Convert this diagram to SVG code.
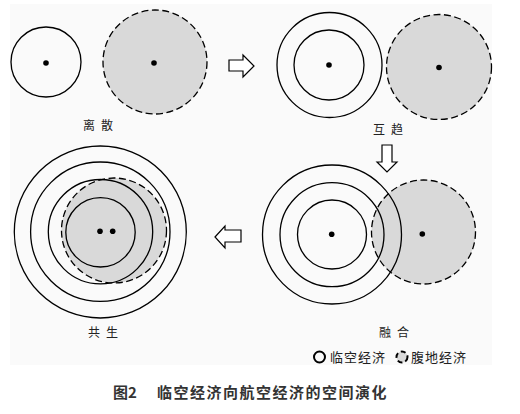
<svg xmlns="http://www.w3.org/2000/svg" width="520" height="414" viewBox="0 0 520 414">
<style>
.bg{fill:#fafafa}
.ring{fill:none;stroke:#000;stroke-width:1.3}
.hin{fill:#d9d9d9;stroke:#000;stroke-width:1.3;stroke-dasharray:7 3.5}
.dot{fill:#000}
.arr{fill:#fff;stroke:#000;stroke-width:1.2;stroke-linejoin:miter}
.lbl{font-family:"Noto Sans CJK SC","Noto Sans CJK JP",sans-serif;font-size:12px;fill:#222;letter-spacing:6px}
.leg{font-family:"Noto Sans CJK SC","Noto Sans CJK JP",sans-serif;font-size:13px;fill:#222;letter-spacing:1px}
.cap{font-family:"Noto Sans CJK SC","Noto Sans CJK JP",sans-serif;font-size:15px;font-weight:bold;fill:#333}
</style>
<rect class="bg" x="10" y="4" width="482" height="361"/>
<g id="stage1">
<circle class="ring" cx="46" cy="62" r="35"/>
<circle class="dot" cx="46" cy="63" r="2.8"/>
<circle class="hin" cx="155" cy="62" r="52"/>
<circle class="dot" cx="154" cy="63" r="2.8"/>
<text class="lbl" x="83" y="130">离散</text>
</g>
<g id="stage2">
<circle class="ring" cx="329.5" cy="65" r="52.5"/>
<circle class="ring" cx="329" cy="65" r="35"/>
<circle class="dot" cx="329" cy="65" r="2.8"/>
<circle class="hin" cx="439" cy="67" r="52.5"/>
<circle class="dot" cx="439" cy="67.5" r="2.8"/>
<text class="lbl" x="373" y="134">互趋</text>
</g>
<g id="stage3">
<circle class="hin" cx="423.5" cy="232" r="52"/>
<circle class="ring" cx="332" cy="234.5" r="69.5"/>
<circle class="ring" cx="332" cy="234.7" r="52"/>
<circle class="ring" cx="332" cy="234.5" r="34.5"/>
<circle class="dot" cx="331.7" cy="234.3" r="2.8"/>
<circle class="dot" cx="422.3" cy="234" r="2.8"/>
<text class="lbl" x="379" y="337">融合</text>
</g>
<g id="stage4">
<circle class="hin" cx="114" cy="230.5" r="52.5"/>
<circle class="ring" cx="100.3" cy="232" r="86"/>
<circle class="ring" cx="100.3" cy="231.7" r="69.7"/>
<circle class="ring" cx="100.5" cy="231.7" r="52.2"/>
<circle class="ring" cx="100.5" cy="232.3" r="34.7"/>
<circle class="dot" cx="100" cy="231.3" r="2.8"/>
<circle class="dot" cx="112.7" cy="231.3" r="2.8"/>
<text class="lbl" x="88" y="337">共生</text>
</g>
<g id="connectors">
<polygon class="arr" points="229,60 243,60 243,55 254,66 243,77 243,71 229,71"/>
<polygon class="arr" points="382,145 392,145 392,162 397,162 387,172 377,162 382,162"/>
<polygon class="arr" points="215,237 225,226 225,230 241,230 241,242 225,242 225,248"/>
</g>
<g id="legend">
<circle cx="319.5" cy="357" r="5.5" fill="none" stroke="#000" stroke-width="2"/>
<text class="leg" x="330" y="362">临空经济</text>
<circle cx="402" cy="357" r="5.5" fill="#d9d9d9" stroke="#000" stroke-width="2" stroke-dasharray="5 3"/>
<text class="leg" x="411" y="362">腹地经济</text>
</g>
<g id="caption">
<text class="cap" x="113" y="398">图2</text>
<text class="cap" x="157" y="398" letter-spacing="1.5">临空经济向航空经济的空间演化</text>
</g>
</svg>
